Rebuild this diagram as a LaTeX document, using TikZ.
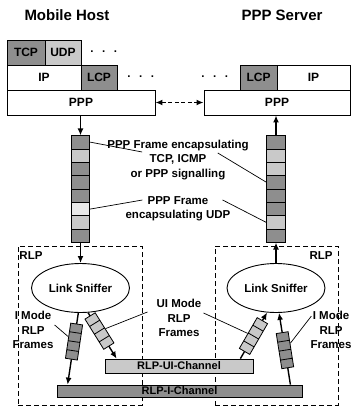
\documentclass[tikz,border=0pt]{standalone}
\usepackage{fontspec}
\setmainfont{Liberation Sans}
\usetikzlibrary{arrows.meta,calc,shapes.geometric,shapes.multipart}
\definecolor{dk}{HTML}{8E8E8E}
\definecolor{lt}{HTML}{C9C9C9}
\definecolor{wt}{HTML}{E8E8E8}

\begin{document}
\begin{tikzpicture}[x=1pt,y=-1pt,every node/.style={font=\bfseries\fontsize{11.5}{14.5}\selectfont,align=center,inner sep=1pt},
layer/.style={draw,line width=0.9pt,minimum height=25pt,inner sep=0pt,font=\bfseries\fontsize{12}{14}\selectfont},
title/.style={font=\bfseries\fontsize{15}{17}\selectfont},
arr/.style={-{Latex[length=7pt,width=6pt]},line width=1.4pt},
pointer/.style={line width=0.7pt},
framestack/.style={draw,line width=0.8pt,rectangle split,rectangle split parts=8,rectangle split empty part height=12.5pt,rectangle split empty part depth=0pt,rectangle split empty part width=13pt,inner sep=0pt},
rlpstack/.style={draw,line width=0.8pt,fill=#1,sloped,rectangle split,rectangle split horizontal,rectangle split parts=4,rectangle split empty part width=3pt,rectangle split empty part height=12pt,rectangle split empty part depth=0pt,inner sep=0pt},
sniffer/.style={draw,ellipse,line width=0.9pt,minimum width=98pt,minimum height=49pt,inner sep=0pt},
rlpbox/.style={draw,dashed,dash pattern=on 5pt off 3pt,line width=0.8pt,minimum height=159pt},
chan/.style={draw,line width=0.8pt,inner sep=0pt,font=\bfseries\fontsize{11}{12}\selectfont}]
\useasboundingbox (0,0) rectangle (353,409);
% titles
\node[title] (mh) at (67,15) {Mobile Host};
\node[title] (ps) at (282,15) {PPP Server};
% mobile host stack
\node[layer,fill=dk,minimum width=38pt] (tcp) at (26,52.5) {TCP};
\node[layer,fill=lt,minimum width=36pt] (udp) at (63,52.5) {UDP};
\node[layer,minimum width=74pt] (ipL) at (44,77.5) {IP};
\node[layer,fill=dk,minimum width=36pt] (lcpL) at (99,77.5) {LCP};
\node[layer,minimum width=148pt] (pppL) at (81,102.5) {PPP};
\node (dotsA) at (104,53) {·\hspace{8pt}·\hspace{8pt}·};
\node (dotsB) at (141,78) {·\hspace{8pt}·\hspace{8pt}·};
% server stack
\node[layer,minimum width=146pt] (pppR) at (277,102.5) {PPP};
\node[layer,fill=dk,minimum width=37pt] (lcpR) at (258.5,77.5) {LCP};
\node[layer,minimum width=73pt] (ipR) at (313.5,77.5) {IP};
\node (dotsC) at (215,78) {·\hspace{8pt}·\hspace{8pt}·};
\draw[arr,dashed,dash pattern=on 4pt off 2.5pt,{Latex[length=7pt,width=6pt]}-{Latex[length=7pt,width=6pt]}] (pppL.east) -- (pppR.west);
% ppp frames
\node[framestack,rectangle split part fill={dk,lt,dk,dk,dk,wt,lt,dk}] (framesL) at (80.5,189) {};
\node[framestack,rectangle split part fill={dk,lt,lt,dk,dk,dk,lt,dk}] (framesR) at (276,189) {};
\node (lblTCP) at (178,160) {PPP Frame encapsulating\\TCP, ICMP\\or PPP signalling};
\node (lblUDP) at (178,209) {PPP Frame\\encapsulating UDP};
\draw[pointer] ($(framesL.north east)!0.0625!(framesL.south east)$) -- ($(lblTCP.west)+(36,-8)$);
\draw[pointer] ($(lblTCP.east)+(-32,-7)$) -- ($(framesR.north west)!0.4375!(framesR.south west)$);
\draw[pointer] ($(framesL.north east)!0.6875!(framesL.south east)$) -- ($(lblUDP.west)+(18,-9)$);
\draw[pointer] ($(lblUDP.east)+(-9,-9)$) -- ($(framesR.north west)!0.8125!(framesR.south west)$);
% rlp layer
\node[rlpbox,minimum width=124pt] (rlpL) at (80,325.5) {};
\node[rlpbox,minimum width=123pt] (rlpR) at (276.5,325.5) {};
\node (rlpLlbl) at (31,256) {RLP};
\node (rlpRlbl) at (321,256) {RLP};
\node[sniffer] (snifL) at (80.5,288) {Link Sniffer};
\node[sniffer] (snifR) at (276,288) {Link Sniffer};
\node[chan,fill=lt,minimum width=148pt,minimum height=14pt] (chanUI) at (179,366) {RLP-UI-Channel};
\node[chan,fill=dk,minimum width=245pt,minimum height=12pt] (chanI) at (179.5,391) {RLP-I-Channel};
\draw[arr] (pppL.south -| framesL.north) -- (framesL.north);
\draw[arr] (framesL.south) -- (snifL.north);
\draw[arr] (snifR.north) -- (framesR.south);
\draw[arr] (framesR.north) -- (pppR.south -| framesR.north);
\draw[arr] (snifL.-95) -- node[rlpstack=dk,pos=0.4] (stIL) {} ($(chanI.north west)+(11,0)$);
\draw[arr] (snifL.-73) -- node[rlpstack=lt,pos=0.4] (stUIL) {} ($(chanUI.north west)+(12,0)$);
\draw[arr] ($(chanUI.north east)+(-13,0)$) -- node[rlpstack=lt,pos=0.49] (stUIR) {} (snifR.-110);
\draw[arr] ($(chanI.north east)+(-12,0)$) -- node[rlpstack=dk,pos=0.48] (stIR) {} (snifR.-83);
\node (lblIL) at (33,330) {I Mode\\RLP\\Frames};
\node (lblUI) at (179,318) {UI Mode\\RLP\\Frames};
\node (lblIR) at (331,330) {I Mode\\RLP\\Frames};
\draw[pointer] ($(lblIL.east)+(0,-5)$) -- (stIL);
\draw[pointer] ($(lblUI.west)+(-8,-6)$) -- (stUIL);
\draw[pointer] ($(lblUI.east)+(1,-5)$) -- (stUIR);
\draw[pointer] ($(lblIR.north west)+(2,6)$) -- (stIR);
\end{tikzpicture}
\end{document}
